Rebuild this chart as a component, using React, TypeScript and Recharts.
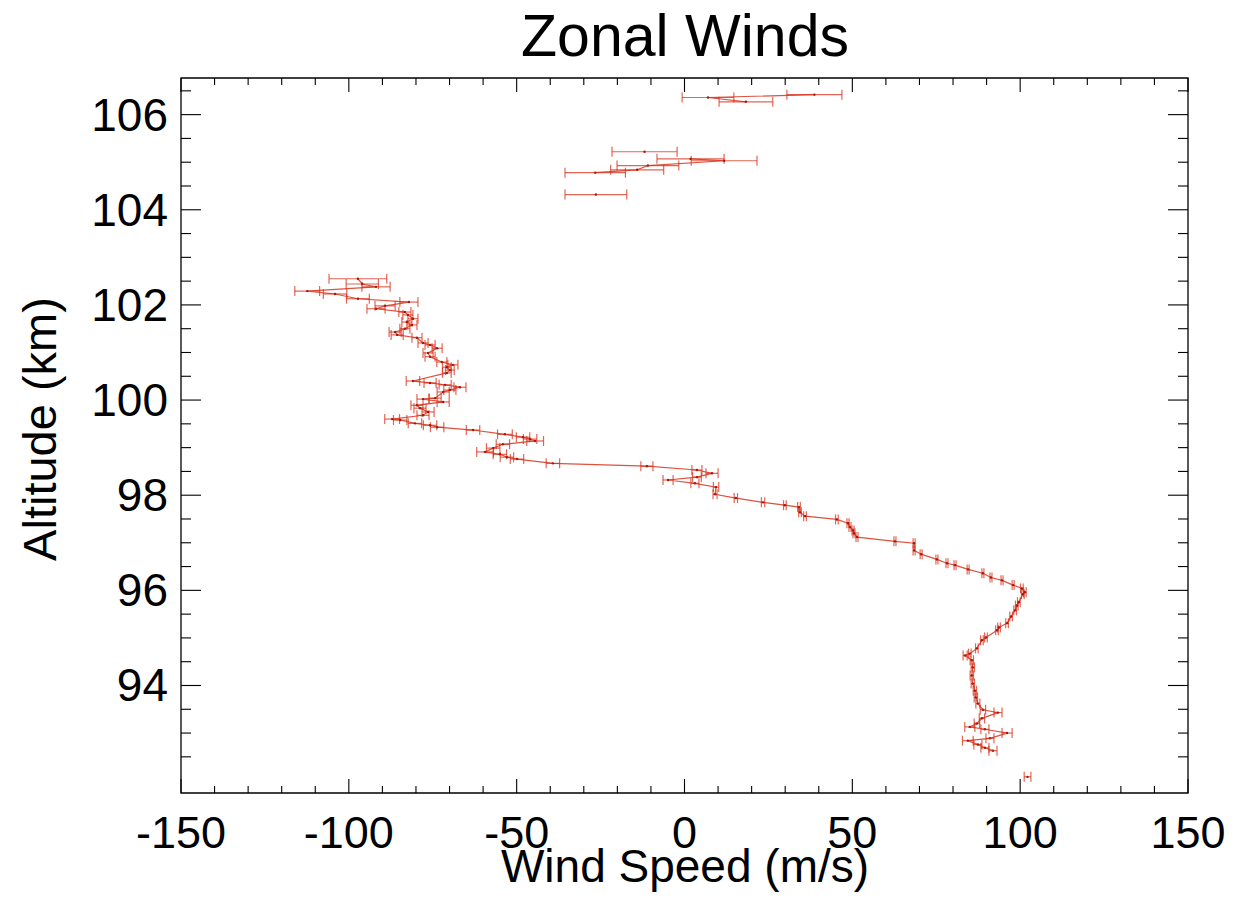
import { ScatterChart, Scatter, XAxis, YAxis, ErrorBar, ReferenceArea } from 'recharts';

const RED = '#d8321c';
const INK = '#000';
const FONT = '"Liberation Sans", Arial, Helvetica, sans-serif';

// [altitude km, zonal wind m/s, error m/s]
const TOP_GROUP: number[][] = [
  [106.42, 38.7, 8.2],
  [106.36, 7.0, 7.7],
  [106.27, 18.3, 8.0],
];

const MID_GROUP: number[][] = [
  [105.07, 1.8, 10.0],
  [105.03, 11.8, 9.8],
  [104.93, -10.9, 9.2],
  [104.84, -14.1, 7.9],
  [104.78, -26.6, 9.0],
];

// points with no neighbour drawn
const LONE_POINTS: number[][] = [
  [105.22, -11.9, 9.7],
  [104.32, -26.4, 9.2],
  [92.08, 102.2, 1.0],
];

const PROFILE: number[][] = [
  [102.55, -97.3, 8.6], [102.44, -96.0, 4.8], [102.38, -91.9, 4.2], [102.29, -112.4, 3.7],
  [102.23, -104.1, 3.5], [102.13, -97.3, 3.4], [102.06, -82.1, 2.7], [101.98, -89.2, 3.0],
  [101.92, -91.9, 2.7], [101.85, -83.3, 1.8], [101.79, -82.4, 1.5], [101.71, -80.9, 1.5],
  [101.64, -82.7, 1.5], [101.58, -81.2, 1.5], [101.5, -83.3, 1.5], [101.43, -86.2, 1.8],
  [101.37, -85.6, 1.8], [101.31, -79.7, 1.5], [101.2, -77.9, 1.5], [101.16, -75.8, 1.5],
  [101.09, -73.7, 1.5], [100.99, -76.4, 1.5], [100.91, -75.8, 1.5], [100.8, -72.3, 1.5],
  [100.74, -69.0, 1.5], [100.69, -70.8, 1.3], [100.63, -69.9, 1.3], [100.57, -70.8, 1.3],
  [100.4, -80.9, 2.0], [100.36, -75.8, 1.8], [100.32, -71.3, 1.8], [100.27, -66.9, 1.8],
  [100.21, -69.9, 1.8], [100.17, -71.9, 1.8], [100.04, -74.3, 1.8], [100.02, -77.9, 1.8],
  [99.96, -71.9, 1.8], [99.89, -79.7, 1.8], [99.83, -78.8, 1.8], [99.75, -76.4, 1.8],
  [99.68, -77.9, 1.8], [99.6, -87.1, 2.2], [99.58, -84.7, 2.0], [99.51, -80.3, 2.0],
  [99.47, -75.8, 2.0], [99.43, -73.7, 2.0], [99.37, -63.0, 2.0], [99.28, -53.5, 2.2],
  [99.22, -48.1, 2.0], [99.18, -46.0, 2.0], [99.14, -44.5, 2.5], [99.07, -54.1, 2.0],
  [98.99, -57.0, 2.0], [98.91, -59.4, 2.5], [98.86, -55.0, 2.0], [98.8, -52.9, 2.0],
  [98.76, -49.9, 2.0], [98.67, -39.2, 2.0], [98.61, -11.2, 1.8], [98.53, 3.7, 1.5],
  [98.46, 8.2, 1.8], [98.38, 3.7, 1.3], [98.32, -4.9, 1.5], [98.25, 3.1, 1.2],
  [98.17, 9.4, 0.8], [98.02, 9.1, 0.6], [97.94, 15.3, 0.5], [97.85, 23.4, 0.5],
  [97.79, 29.9, 0.4], [97.75, 34.1, 0.4], [97.64, 34.4, 0.4], [97.56, 35.9, 0.4],
  [97.49, 45.4, 0.4], [97.41, 48.7, 0.3], [97.33, 49.3, 0.3], [97.26, 50.2, 0.3],
  [97.2, 50.5, 0.3], [97.12, 51.4, 0.3], [97.03, 62.7, 0.3], [96.99, 68.4, 0.3],
  [96.84, 68.4, 0.3], [96.76, 70.5, 0.3], [96.65, 75.2, 0.3], [96.57, 78.2, 0.3],
  [96.53, 80.6, 0.3], [96.44, 84.5, 0.3], [96.36, 88.9, 0.3], [96.27, 91.3, 0.3],
  [96.21, 94.6, 0.3], [96.11, 97.9, 0.3], [96.04, 100.5, 0.4], [95.96, 101.4, 0.4],
  [95.92, 100.8, 0.4], [95.75, 99.6, 0.4], [95.68, 99.0, 0.4], [95.58, 98.5, 0.4],
  [95.45, 97.3, 0.4], [95.31, 96.1, 0.4], [95.22, 93.7, 0.4], [95.16, 93.1, 0.4],
  [95.01, 89.8, 0.4], [94.95, 88.6, 0.4], [94.78, 87.1, 0.4], [94.67, 85.0, 0.4],
  [94.63, 83.6, 0.6], [94.53, 85.6, 0.5], [94.38, 85.9, 0.5], [94.21, 85.6, 0.5],
  [94.04, 85.9, 0.5], [93.89, 86.5, 0.5], [93.75, 86.8, 0.5], [93.62, 87.4, 0.6],
  [93.49, 88.9, 0.8], [93.43, 93.4, 1.2], [93.31, 88.6, 0.8], [93.2, 87.1, 0.8],
  [93.13, 85.0, 1.5], [93.08, 89.5, 1.2], [93.0, 96.1, 1.5], [92.89, 91.0, 1.2],
  [92.84, 84.4, 1.6], [92.76, 87.4, 1.2], [92.69, 89.5, 1.2], [92.63, 91.9, 1.2],
];

const X_TICKS = [
  -150, -140, -130, -120, -110, -100, -90, -80, -70, -60, -50, -40, -30, -20, -10, 0,
  10, 20, 30, 40, 50, 60, 70, 80, 90, 100, 110, 120, 130, 140, 150,
];
const X_LABELS = [-150, -100, -50, 0, 50, 100, 150];
const Y_TICKS = [
  92.5, 93, 93.5, 94, 94.5, 95, 95.5, 96, 96.5, 97, 97.5, 98, 98.5, 99, 99.5, 100,
  100.5, 101, 101.5, 102, 102.5, 103, 103.5, 104, 104.5, 105, 105.5, 106, 106.5,
];
const Y_LABELS = [94, 96, 98, 100, 102, 104, 106];

const X_DOMAIN: [number, number] = [-150, 150];
const Y_DOMAIN: [number, number] = [91.74, 106.77];

const PLOT_W = 1007;
const PLOT_H = 715;

const toPoints = (rows: number[][]) => rows.map(([alt, wind, err]) => ({ alt, wind, err }));

function XTick(props: any) {
  const { x, y, payload } = props;
  const v = payload.value;
  const major = X_LABELS.includes(v);
  const len = major ? 14 : 7;
  return (
    <g>
      <line x1={x} x2={x} y1={y} y2={y - len} stroke={INK} strokeWidth={1.1} />
      <line x1={x} x2={x} y1={y - PLOT_H} y2={y - PLOT_H + len} stroke={INK} strokeWidth={1.1} />
      {major && (
        <text x={x} y={y + 55} textAnchor="middle" fontSize={45} fontFamily={FONT} fill={INK}>
          {v}
        </text>
      )}
    </g>
  );
}

function YTick(props: any) {
  const { x, y, payload } = props;
  const v = payload.value;
  const major = Y_LABELS.includes(v);
  const len = major ? 20 : 10;
  return (
    <g>
      <line x1={x} x2={x + len} y1={y} y2={y} stroke={INK} strokeWidth={1.1} />
      <line x1={x + PLOT_W} x2={x + PLOT_W - len} y1={y} y2={y} stroke={INK} strokeWidth={1.1} />
      {major && (
        <text x={x - 13} y={y + 16} textAnchor="end" fontSize={46} fontFamily={FONT} fill={INK}>
          {v}
        </text>
      )}
    </g>
  );
}

function XTitle() {
  return (
    <text x={685} y={882} textAnchor="middle" fontSize={46} fontFamily={FONT} fill={INK}>
      Wind Speed (m/s)
    </text>
  );
}

function YTitle() {
  return (
    <text transform="translate(56,429) rotate(-90)" textAnchor="middle" fontSize={47} fontFamily={FONT} fill={INK}>
      Altitude (km)
    </text>
  );
}

const dot = (p: any) => <circle cx={p.cx} cy={p.cy} r={1.2} fill="#a81808" />;

const lineStyle = { stroke: RED, strokeWidth: 1.2, strokeOpacity: 0.85 };

function Bars() {
  return (
    <ErrorBar
      dataKey="err"
      direction="x"
      width={5}
      stroke={RED}
      strokeWidth={1.2}
      strokeOpacity={0.75}
      isAnimationActive={false}
    />
  );
}

export default function App() {
  return (
    <div style={{ position: 'absolute', left: 0, top: 0, width: 1234, height: 915, background: '#fff' }}>
      <div
        style={{
          position: 'absolute',
          left: 185,
          top: 7,
          width: 1000,
          textAlign: 'center',
          fontFamily: FONT,
          fontSize: 59,
          lineHeight: '59px',
          color: INK,
        }}
      >
        Zonal Winds
      </div>
      <ScatterChart width={1234} height={915} margin={{ top: 78, right: 46, bottom: 62, left: 81 }}>
        <XAxis
          type="number"
          dataKey="wind"
          domain={X_DOMAIN}
          ticks={X_TICKS}
          interval={0}
          allowDataOverflow
          height={60}
          tickSize={0}
          tickMargin={0}
          tickLine={false}
          axisLine={false}
          tick={<XTick />}
          label={<XTitle />}
        />
        <YAxis
          type="number"
          dataKey="alt"
          domain={Y_DOMAIN}
          ticks={Y_TICKS}
          interval={0}
          allowDataOverflow
          width={100}
          tickSize={0}
          tickMargin={0}
          tickLine={false}
          axisLine={false}
          tick={<YTick />}
          label={<YTitle />}
        />
        <ReferenceArea
          x1={X_DOMAIN[0]}
          x2={X_DOMAIN[1]}
          y1={Y_DOMAIN[0]}
          y2={Y_DOMAIN[1]}
          fill="none"
          stroke={INK}
          strokeWidth={1.3}
          fillOpacity={0}
        />
        <Scatter data={toPoints(PROFILE)} line={lineStyle} shape={dot} isAnimationActive={false}>
          {Bars()}
        </Scatter>
        <Scatter data={toPoints(MID_GROUP)} line={lineStyle} shape={dot} isAnimationActive={false}>
          {Bars()}
        </Scatter>
        <Scatter data={toPoints(TOP_GROUP)} line={lineStyle} shape={dot} isAnimationActive={false}>
          {Bars()}
        </Scatter>
        <Scatter data={toPoints(LONE_POINTS)} shape={dot} isAnimationActive={false}>
          {Bars()}
        </Scatter>
      </ScatterChart>
    </div>
  );
}
